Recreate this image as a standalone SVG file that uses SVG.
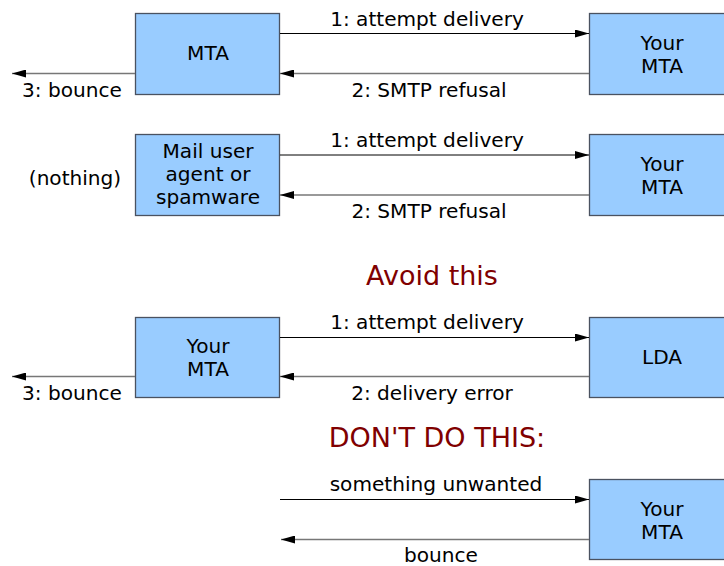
<svg xmlns="http://www.w3.org/2000/svg" width="724" height="566" viewBox="0 0 724 566">
  <defs>
    <marker id="head" viewBox="0 0 14 8" refX="14" refY="4" markerWidth="14" markerHeight="8" markerUnits="userSpaceOnUse" orient="auto">
      <path d="M0,0 L14,4 L0,8 Z" fill="#000"/>
    </marker>
  </defs>
  <style>
    .box { fill: #99ccff; stroke: #4a5260; stroke-width: 1.3; }
    .t { font-family: "DejaVu Sans", "Liberation Sans", sans-serif; font-size: 20.1px; fill: #000; text-anchor: middle; }
    .h { font-family: "DejaVu Sans", "Liberation Sans", sans-serif; font-size: 27px; fill: #800000; text-anchor: middle; }
    .fwd { stroke: #000; stroke-width: 1; fill: none; marker-end: url(#head); }
    .back { stroke: #777; stroke-width: 1.6; fill: none; marker-end: url(#head); }
  </style>
  <rect width="724" height="566" fill="#fff"/>

  <!-- row 1: remote MTA refuses at SMTP time -->
  <g id="mta1">
    <rect class="box" x="135.5" y="13.5" width="144" height="81"/>
    <text class="t" x="208" y="60">MTA</text>
  </g>
  <g id="yourmta1">
    <rect class="box" x="589.5" y="13.5" width="144" height="81"/>
    <text class="t" x="662" y="50">Your</text>
    <text class="t" x="662" y="73">MTA</text>
  </g>

  <!-- row 2: client has nobody to bounce to -->
  <text class="t" x="75" y="185">(nothing)</text>
  <g id="mua">
    <rect class="box" x="135.5" y="134.5" width="144" height="81"/>
    <text class="t" x="208" y="158">Mail user</text>
    <text class="t" x="208" y="181">agent or</text>
    <text class="t" x="208" y="204">spamware</text>
  </g>
  <g id="yourmta2">
    <rect class="box" x="589.5" y="134.5" width="144" height="81"/>
    <text class="t" x="662" y="171">Your</text>
    <text class="t" x="662" y="194">MTA</text>
  </g>

  <text class="h" x="432" y="285">Avoid this</text>

  <!-- row 3: local delivery failure after acceptance -->
  <g id="yourmta3">
    <rect class="box" x="135.5" y="317.5" width="144" height="80"/>
    <text class="t" x="208" y="353">Your</text>
    <text class="t" x="208" y="376">MTA</text>
  </g>
  <g id="lda">
    <rect class="box" x="589.5" y="317.5" width="144" height="80"/>
    <text class="t" x="662" y="364">LDA</text>
  </g>

  <text class="h" x="437" y="447">DON'T DO THIS:</text>

  <!-- row 4: backscatter -->
  <g id="yourmta4">
    <rect class="box" x="589.5" y="479.5" width="144" height="80"/>
    <text class="t" x="662" y="516">Your</text>
    <text class="t" x="662" y="539">MTA</text>
  </g>

  <g id="connectors">
    <line class="fwd" x1="280" y1="33.5" x2="589" y2="33.5"/>
    <line class="back" x1="589" y1="73.5" x2="280" y2="73.5"/>
    <line class="back" x1="135" y1="73.5" x2="12" y2="73.5"/>
    <text class="t" x="427" y="26">1: attempt delivery</text>
    <text class="t" x="429" y="97">2: SMTP refusal</text>
    <text class="t" x="72" y="97">3: bounce</text>

    <line class="fwd" x1="280" y1="155" x2="589" y2="155"/>
    <line class="back" x1="589" y1="195" x2="280" y2="195"/>
    <text class="t" x="427" y="147">1: attempt delivery</text>
    <text class="t" x="429" y="218">2: SMTP refusal</text>

    <line class="fwd" x1="280" y1="337.5" x2="589" y2="337.5"/>
    <line class="back" x1="589" y1="376.5" x2="280" y2="376.5"/>
    <line class="back" x1="135" y1="376.5" x2="12" y2="376.5"/>
    <text class="t" x="427" y="329">1: attempt delivery</text>
    <text class="t" x="432" y="400">2: delivery error</text>
    <text class="t" x="72" y="400">3: bounce</text>

    <line class="fwd" x1="280" y1="499.5" x2="589" y2="499.5"/>
    <line class="back" x1="589" y1="539.5" x2="281" y2="539.5"/>
    <text class="t" x="436" y="491">something unwanted</text>
    <text class="t" x="441" y="562">bounce</text>
  </g>
</svg>
